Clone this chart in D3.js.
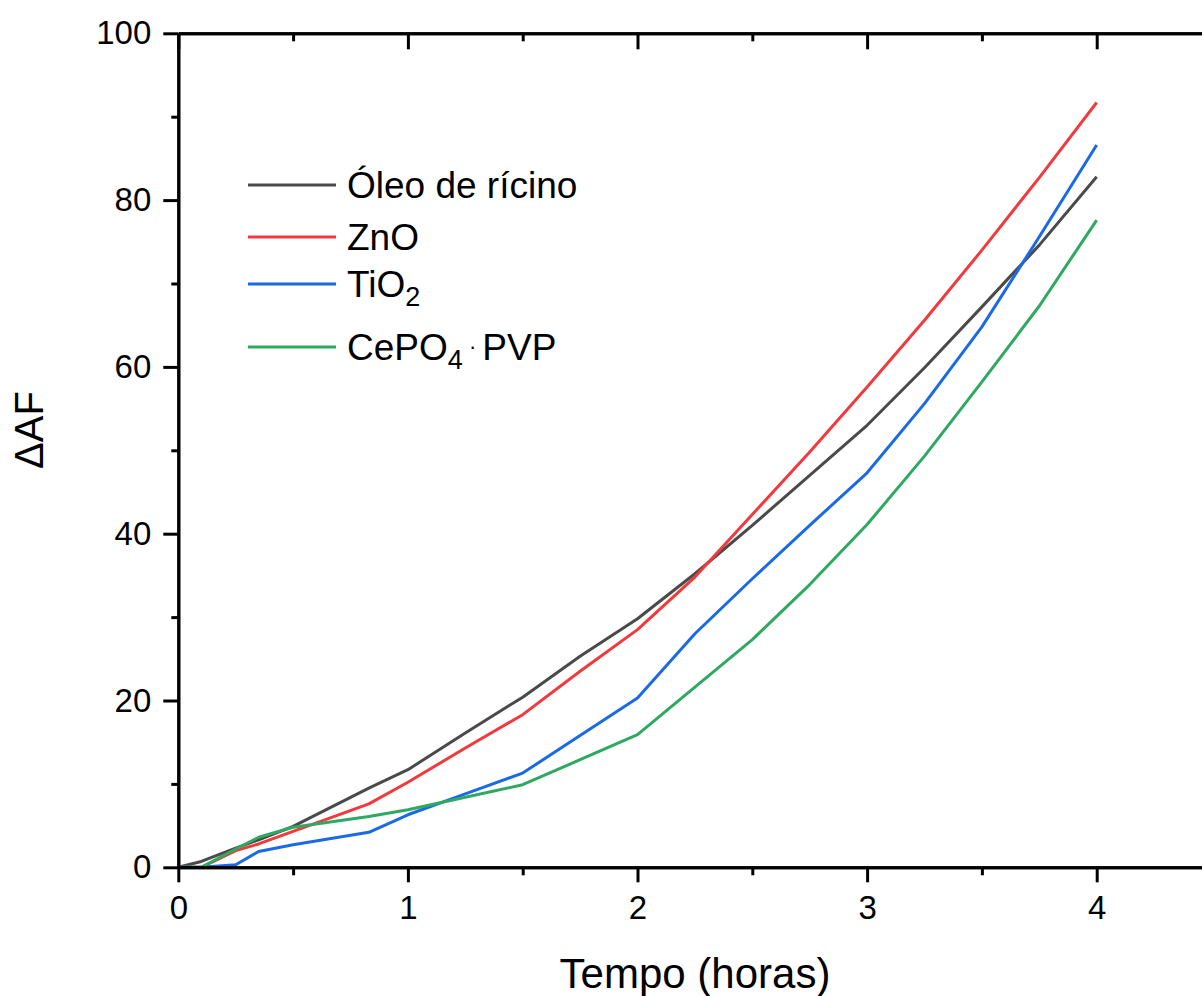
<!DOCTYPE html>
<html>
<head>
<meta charset="utf-8">
<script src="https://cdn.jsdelivr.net/npm/d3@7"></script>
<style>
  html, body { margin: 0; padding: 0; background: #fff; }
  svg { display: block; font-family: Arial, "Liberation Sans", sans-serif; }
</style>
</head>
<body>
<svg id="chart" width="1202" height="996"></svg>
<script>
// ---- data ----
const times  = [0, 0.1, 0.25, 0.35, 0.5, 0.83, 1, 1.25, 1.5, 1.75, 2, 2.25, 2.5, 2.75, 3, 3.25, 3.5, 3.75, 4];
const oleo   = [0, 0.7, 2.3, 3.3, 4.9, 9.5, 11.7, 16.1, 20.4, 25.3, 29.8, 35.2, 41.0, 47.0, 53.0, 59.9, 67.2, 74.6, 82.8];
const zno    = [0, 0, 2.0, 2.8, 4.3, 7.6, 10.2, 14.3, 18.3, 23.5, 28.5, 34.8, 42.3, 49.8, 57.6, 65.6, 74.0, 82.7, 91.7];
const tio2   = [0, 0, 0.3, 1.9, 2.7, 4.2, 6.3, 8.8, 11.3, 15.8, 20.3, 28.0, 34.6, 41.0, 47.3, 55.6, 64.8, 75.6, 86.6];
const cepo4  = [0, 0, 2.2, 3.6, 4.8, 6.1, 6.9, 8.4, 9.9, 12.9, 15.9, 21.6, 27.3, 33.9, 41.1, 49.3, 58.2, 67.3, 77.6];
const seriesNames = ["Óleo de rícino", "ZnO", "TiO2", "CePO4 · PVP"];
const seriesColors = ["#4a4a4a", "#f03a3e", "#1a6ae6", "#2fa862"];
const xMajorTicks = [0, 1, 2, 3, 4];
const xMinorTicks = [0.5, 1.5, 2.5, 3.5];
const yMajorTicks = [0, 20, 40, 60, 80, 100];
const yMinorTicks = [10, 30, 50, 70, 90];
const xTitle = "Tempo (horas)";
const yTitle = "ΔAF";

const allSeries = [oleo, zno, tio2, cepo4];

// ---- layout ----
const svg = d3.select("#chart");
const mLeft = 178.3, mTop = 33.3;
const x = d3.scaleLinear().domain([0, 4.5]).range([mLeft, mLeft + 4.5 * 229.6]);
const y = d3.scaleLinear().domain([0, 100]).range([mTop + 834, mTop]);
const x0 = x(0), x1 = x(4.5), y0 = y(0), y1 = y(100);

// series
const line = d3.line().x(d => x(d[0])).y(d => y(d[1]));
allSeries.forEach((vals, i) => {
  svg.append("path")
    .datum(times.map((t, k) => [t, vals[k]]))
    .attr("fill", "none")
    .attr("stroke", seriesColors[i])
    .attr("stroke-width", 3)
    .attr("stroke-linejoin", "round")
    .attr("d", line);
});

// axes
function styleAxis(g) {
  g.selectAll("path.domain").attr("stroke", "#000").attr("stroke-width", 3);
  g.selectAll(".tick line").attr("stroke", "#000").attr("stroke-width", 3);
  g.selectAll(".tick text").attr("fill", "#000");
}

// bottom
svg.append("g").attr("transform", `translate(0,${y0})`)
  .call(d3.axisBottom(x).tickValues(xMinorTicks).tickSize(8).tickSizeOuter(0).tickFormat(""))
  .call(styleAxis);
const gb = svg.append("g").attr("transform", `translate(0,${y0})`)
  .call(d3.axisBottom(x).tickValues(xMajorTicks).tickSize(15).tickSizeOuter(0).tickPadding(13).tickFormat(d3.format("d")))
  .call(styleAxis);
gb.selectAll(".tick text").attr("font-size", 33).attr("font-family", "Arial, 'Liberation Sans', sans-serif");

// top
svg.append("g").attr("transform", `translate(0,${y1})`)
  .call(d3.axisBottom(x).tickValues(xMinorTicks).tickSize(8).tickSizeOuter(0).tickFormat(""))
  .call(styleAxis);
svg.append("g").attr("transform", `translate(0,${y1})`)
  .call(d3.axisBottom(x).tickValues(xMajorTicks).tickSize(16).tickSizeOuter(0).tickFormat(""))
  .call(styleAxis);

// left
svg.append("g").attr("transform", `translate(${x0},0)`)
  .call(d3.axisLeft(y).tickValues(yMinorTicks).tickSize(7).tickSizeOuter(0).tickFormat(""))
  .call(styleAxis);
const gl = svg.append("g").attr("transform", `translate(${x0},0)`)
  .call(d3.axisLeft(y).tickValues(yMajorTicks).tickSize(15).tickSizeOuter(0).tickPadding(12).tickFormat(d3.format("d")))
  .call(styleAxis);
gl.selectAll(".tick text").attr("font-size", 33).attr("font-family", "Arial, 'Liberation Sans', sans-serif");

// right
svg.append("g").attr("transform", `translate(${x1},0)`)
  .call(d3.axisLeft(y).tickValues(yMinorTicks).tickSize(-8).tickSizeOuter(0).tickFormat(""))
  .call(styleAxis);
svg.append("g").attr("transform", `translate(${x1},0)`)
  .call(d3.axisLeft(y).tickValues(yMajorTicks).tickSize(-16).tickSizeOuter(0).tickFormat(""))
  .call(styleAxis);

// axis titles
svg.append("text")
  .attr("x", 695).attr("y", 988)
  .attr("text-anchor", "middle")
  .attr("font-size", 42)
  .attr("fill", "#000")
  .text(xTitle);
svg.append("text")
  .attr("transform", "translate(43,430) rotate(-90)")
  .attr("text-anchor", "middle")
  .attr("font-size", 40)
  .attr("fill", "#000")
  .text(yTitle);

// legend
const legendY = [185, 237, 284, 347];
const lg = svg.append("g");
seriesNames.forEach((name, i) => {
  const ly = legendY[i];
  lg.append("line")
    .attr("x1", 248).attr("x2", 336)
    .attr("y1", ly).attr("y2", ly)
    .attr("stroke", seriesColors[i]).attr("stroke-width", 3);
  const t = lg.append("text")
    .attr("x", 347).attr("y", ly + 13)
    .attr("font-size", 37)
    .attr("fill", "#000");
  if (name === "TiO2") {
    t.append("tspan").text("TiO");
    t.append("tspan").attr("dy", 9).attr("font-size", 27).text("2");
  } else if (name.startsWith("CePO4")) {
    t.append("tspan").text("CePO");
    t.append("tspan").attr("dy", 9).attr("font-size", 27).text("4");
    t.append("tspan").attr("dy", -15).attr("font-size", 22).text(" · ");
    t.append("tspan").attr("dy", 6).attr("font-size", 37).text("PVP");
  } else {
    t.text(name);
  }
});
</script>
</body>
</html>
